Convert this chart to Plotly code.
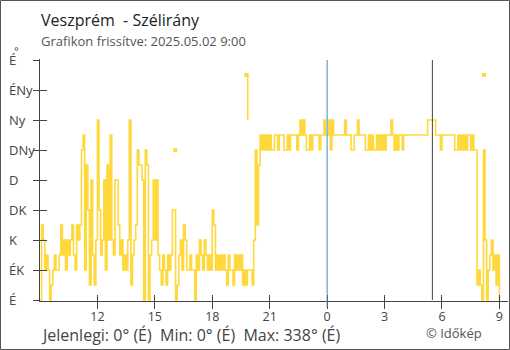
import pandas as pd
import plotly.graph_objects as go

# ---------------- data ----------------
station = "Veszprém"
title_text = "Veszprém\u00a0\u00a0- Szélirány"
subtitle_text = "Grafikon frissítve: 2025.05.02 9:00"
footer_text = "Jelenlegi: 0° (É)\u00a0\u00a0Min: 0° (É)\u00a0\u00a0Max: 338° (É)"
credit_text = "© Időkép"

start_time = "2025-05-01 09:00"
step_minutes = 5
sector_deg = 22.5  # 16-point compass sector

# wind direction, compass sector index (0=É ... 15=ÉÉNy), 5-minute samples, one list per hour
h09 = [0, 5, 4, 2, 3, 2, 0, 1, 2, 3, 2, 2]
h10 = [3, 5, 3, 4, 2, 4, 3, 4, 5, 3, 2, 5]
h11 = [4, 5, 10, 11, 2, 9, 6, 1, 8, 3, 1, 4]
h12 = [12, 6, 3, 4, 8, 2, 9, 4, 11, 4, 3, 8]
h13 = [8, 5, 3, 4, 2, 3, 2, 4, 12, 1, 3, 4]
h14 = [5, 10, 9, 9, 8, 0, 10, 9, 0, 3, 4, 8]
h15 = [4, 8, 3, 2, 1, 3, 2, 1, 3, 2, 3, 6]
h16 = [6, 0, 1, 3, 4, 2, 5, 4, 2, 2, 3, 2]
h17 = [2, 0, 3, 2, 4, 3, 2, 4, 3, 2, 3, 2]
h18 = [6, 5, 2, 3, 2, 3, 2, 3, 2, 1, 3, 2]
h19 = [2, 1, 3, 2, 3, 2, 3, 1, 2, 1, 2, 2]
h20 = [2, 1, 4, 10, 5, 9, 11, 10, 11, 10, 11, 10]
h21 = [11, 10, 10, 11, 11, 10, 11, 11, 11, 10, 10, 11]
h22 = [10, 11, 11, 11, 11, 10, 11, 12, 11, 12, 11, 10]
h23 = [10, 11, 10, 11, 11, 11, 11, 10, 11, 11, 12, 11]
h00 = [11, 12, 10, 12, 11, 11, 11, 11, 11, 11, 11, 12]
h01 = [11, 11, 11, 10, 10, 11, 11, 12, 11, 11, 11, 11]
h02 = [10, 10, 11, 10, 11, 10, 10, 11, 10, 11, 10, 11]
h03 = [10, 11, 11, 11, 12, 11, 10, 11, 10, 11, 11, 10]
h04 = [11, 11, 11, 11, 11, 11, 11, 11, 11, 11, 11, 11]
h05 = [11, 11, 11, 12, 12, 12, 12, 12, 11, 11, 11, 10]
h06 = [11, 11, 11, 11, 11, 11, 11, 11, 10, 10, 11, 10]
h07 = [11, 10, 11, 10, 11, 11, 10, 11, 10, 10, 1, 2]
h08 = [1, 0, 10, 4, 0, 2, 3, 4, 2, 3, 1, 3]
h09_end = [0]

# stray readings drawn apart from the main line
stray_times = ["2025-05-01 19:47", "2025-05-01 19:51"]
stray_sectors = [15, 12]
single_times = ["2025-05-01 16:04", "2025-05-02 08:12"]
single_sectors = [10, 15]

# axes
x_range = ["2025-05-01 09:00", "2025-05-02 09:27"]
x_tickvals = ["2025-05-01 12:00", "2025-05-01 15:00", "2025-05-01 18:00", "2025-05-01 21:00",
              "2025-05-02 00:00", "2025-05-02 03:00", "2025-05-02 06:00", "2025-05-02 09:00"]
x_ticktext = ["12", "15", "18", "21", "0", "3", "6", "9"]
y_tickvals = [0, 45, 90, 135, 180, 225, 270, 315, 360]
y_ticktext = ["É", "ÉK", "K", "DK", "D", "DNy", "Ny", "ÉNy", "É"]
midnight_line = "2025-05-02 00:00"
update_line = "2025-05-02 05:30"

# ---------------- build ----------------
hours = [h09, h10, h11, h12, h13, h14, h15, h16, h17, h18, h19, h20, h21, h22, h23,
         h00, h01, h02, h03, h04, h05, h06, h07, h08, h09_end]
sectors = [v for h in hours for v in h]
times = pd.date_range(start_time, periods=len(sectors), freq=f"{step_minutes}min")
degrees = [s * sector_deg for s in sectors]

YEL = "#FFD83B"
AX = "#444444"
FONT = "Open Sans"

fig = go.Figure()
fig.add_trace(go.Scatter(x=times, y=degrees, mode="lines", line=dict(color=YEL, width=1.6, shape="hv"),
                         hoverinfo="skip", showlegend=False))
fig.add_trace(go.Scatter(x=pd.to_datetime(stray_times), y=[s * sector_deg for s in stray_sectors], mode="lines",
                         line=dict(color=YEL, width=1.6, shape="hv"), hoverinfo="skip", showlegend=False))
fig.add_trace(go.Scatter(x=pd.to_datetime(stray_times[:1]), y=[stray_sectors[0] * sector_deg], mode="markers",
                         marker=dict(color=YEL, size=4, symbol="square"), hoverinfo="skip", showlegend=False))
fig.add_trace(go.Scatter(x=pd.to_datetime(single_times), y=[s * sector_deg for s in single_sectors], mode="markers",
                         marker=dict(color=YEL, size=4, symbol="square"), hoverinfo="skip", showlegend=False))
# helper trace for the extra tick axes
fig.add_trace(go.Scatter(x=[x_range[0]], y=[0], xaxis="x2", yaxis="y2", mode="markers",
                         marker=dict(opacity=0), hoverinfo="skip", showlegend=False))

W, H = 510, 350
L, R, T, B = 40, 2, 59, 49
pw, ph = W - L - R, H - T - B


def px(p):
    return (p - L) / pw


def py(p):
    return (T + ph - p) / ph


fig.update_layout(
    width=W, height=H, margin=dict(l=L, r=R, t=T, b=B),
    paper_bgcolor="white", plot_bgcolor="white",
    font=dict(family=FONT, color=AX),
    xaxis=dict(type="date", range=x_range, tickvals=x_tickvals, ticktext=x_ticktext,
               showgrid=False, zeroline=False, showline=True, linecolor=AX, linewidth=1,
               ticks="inside", ticklen=6, tickcolor=AX, tickwidth=1, ticklabelstandoff=4,
               tickfont=dict(size=12.5, color=AX, family=FONT)),
    xaxis2=dict(type="date", overlaying="x", matches="x", anchor="y", side="bottom",
                tickvals=x_tickvals, showticklabels=False, showgrid=False, zeroline=False,
                showline=False, ticks="outside", ticklen=7, tickcolor=AX, tickwidth=1),
    yaxis=dict(range=[-1.5, 361.5], tickvals=y_tickvals, showticklabels=False,
               showgrid=False, zeroline=False, showline=True, linecolor=AX, linewidth=1,
               ticks="outside", ticklen=6, tickcolor=AX, tickwidth=1),
    yaxis2=dict(overlaying="y", matches="y", anchor="x", side="left", tickvals=y_tickvals,
                showticklabels=False, showgrid=False, zeroline=False, showline=False,
                ticks="inside", ticklen=7, tickcolor=AX, tickwidth=1),
)

ann = []
for v, t in zip(y_tickvals, y_ticktext):
    ann.append(dict(x=px(7), xref="paper", y=v, yref="y", text=t, showarrow=False,
                    xanchor="left", yanchor="middle", font=dict(size=13, color=AX, family=FONT)))
ann.append(dict(x=px(12), xref="paper", y=py(50), yref="paper", text="°", showarrow=False,
                xanchor="left", yanchor="middle", font=dict(size=11, color=AX, family=FONT)))
ann.append(dict(x=px(39), xref="paper", y=py(20), yref="paper", text=title_text, showarrow=False,
                xanchor="left", yanchor="middle", font=dict(size=16, color="#222222", family=FONT)))
ann.append(dict(x=px(39), xref="paper", y=py(40.5), yref="paper", text=subtitle_text, showarrow=False,
                xanchor="left", yanchor="middle", font=dict(size=13, color="#555555", family=FONT)))
ann.append(dict(x=px(39), xref="paper", y=py(335), yref="paper", text=footer_text, showarrow=False,
                xanchor="left", yanchor="middle", font=dict(size=16, color=AX, family=FONT)))
ann.append(dict(x=px(424), xref="paper", y=py(332.5), yref="paper", text=credit_text, showarrow=False,
                xanchor="left", yanchor="middle", font=dict(size=13, color="#555555", family=FONT)))
fig.update_layout(annotations=ann)

shapes = [
    dict(type="line", xref="x", yref="paper", x0=midnight_line, x1=midnight_line, y0=py(307), y1=py(60),
         line=dict(color="#3A8ED0", width=1)),
    dict(type="line", xref="x", yref="paper", x0=update_line, x1=update_line, y0=py(300), y1=py(60),
         line=dict(color=AX, width=1)),
    dict(type="rect", xref="paper", yref="paper", x0=px(0.5), x1=px(509.5), y0=py(349.5), y1=py(0.5),
         line=dict(color="#555555", width=1), fillcolor="rgba(0,0,0,0)"),
]
fig.update_layout(shapes=shapes)

fig.write_html("out.html")
